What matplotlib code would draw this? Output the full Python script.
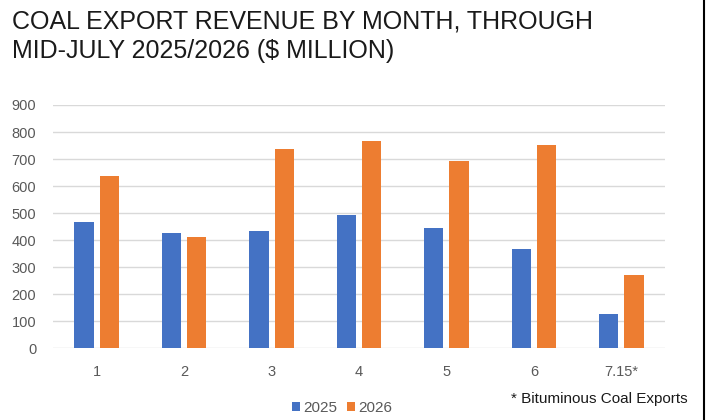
import matplotlib
matplotlib.use("Agg")
import matplotlib.pyplot as plt
import numpy as np
from matplotlib.patches import Patch
from matplotlib.lines import Line2D

categories = ["1", "2", "3", "4", "5", "6", "7.15*"]
rev_2025 = [468, 428, 434, 492, 444, 366, 127]
rev_2026 = [637, 412, 737, 768, 694, 752, 270]
series_names = ["2025", "2026"]
yticks = [0, 100, 200, 300, 400, 500, 600, 700, 800, 900]

BLUE = "#4472C4"
ORANGE = "#ED7D31"
GRAY = "#595959"

plt.rcParams['font.family'] = ['Liberation Sans', 'DejaVu Sans']

fig = plt.figure(figsize=(7.07, 4.2), dpi=100)
ax = fig.add_axes([53/707, 71.7/420, 612/707, 243.3/420])

x = np.arange(len(categories))
w = 0.22
ax.bar(x - 0.145, rev_2025, w, color=BLUE, zorder=3)
ax.bar(x + 0.145, rev_2026, w, color=ORANGE, zorder=3)

ax.set_xlim(-0.5, len(categories) - 0.5)
ax.set_ylim(0, 900)
ax.set_yticks(yticks)
ax.set_xticks(x)
ax.set_xticklabels(categories)
ax.grid(axis='y', color='#d9d9d9', linewidth=1, zorder=0)
ax.set_axisbelow(True)
for s in ax.spines.values():
    s.set_visible(False)
ax.tick_params(axis='both', length=0, colors=GRAY, labelsize=10.5)
ax.tick_params(axis='y', pad=12)
ax.tick_params(axis='x', pad=12)

fig.text(12/707, 1 - 10/420, "COAL EXPORT REVENUE BY MONTH, THROUGH\nMID-JULY 2025/2026 ($ MILLION)",
         ha='left', va='top', fontsize=18, color='#1a1a1a', linespacing=1.25)

handles = [Patch(facecolor=BLUE), Patch(facecolor=ORANGE)]
fig.legend(handles, series_names, loc='center', bbox_to_anchor=(342/707, 1 - 408/420),
           ncol=2, frameon=False, fontsize=11, labelcolor=GRAY,
           handlelength=0.55, handleheight=0.55, handletextpad=0.2, columnspacing=0.6)

fig.text(688/707, 1 - 399/420, "* Bituminous Coal Exports", ha='right', va='center',
         fontsize=11, color='#1a1a1a')

fig.add_artist(Line2D([703.5/707, 703.5/707], [0, 1], color='black', linewidth=1.5,
                      transform=fig.transFigure))

fig.savefig("out.png", dpi=100)
